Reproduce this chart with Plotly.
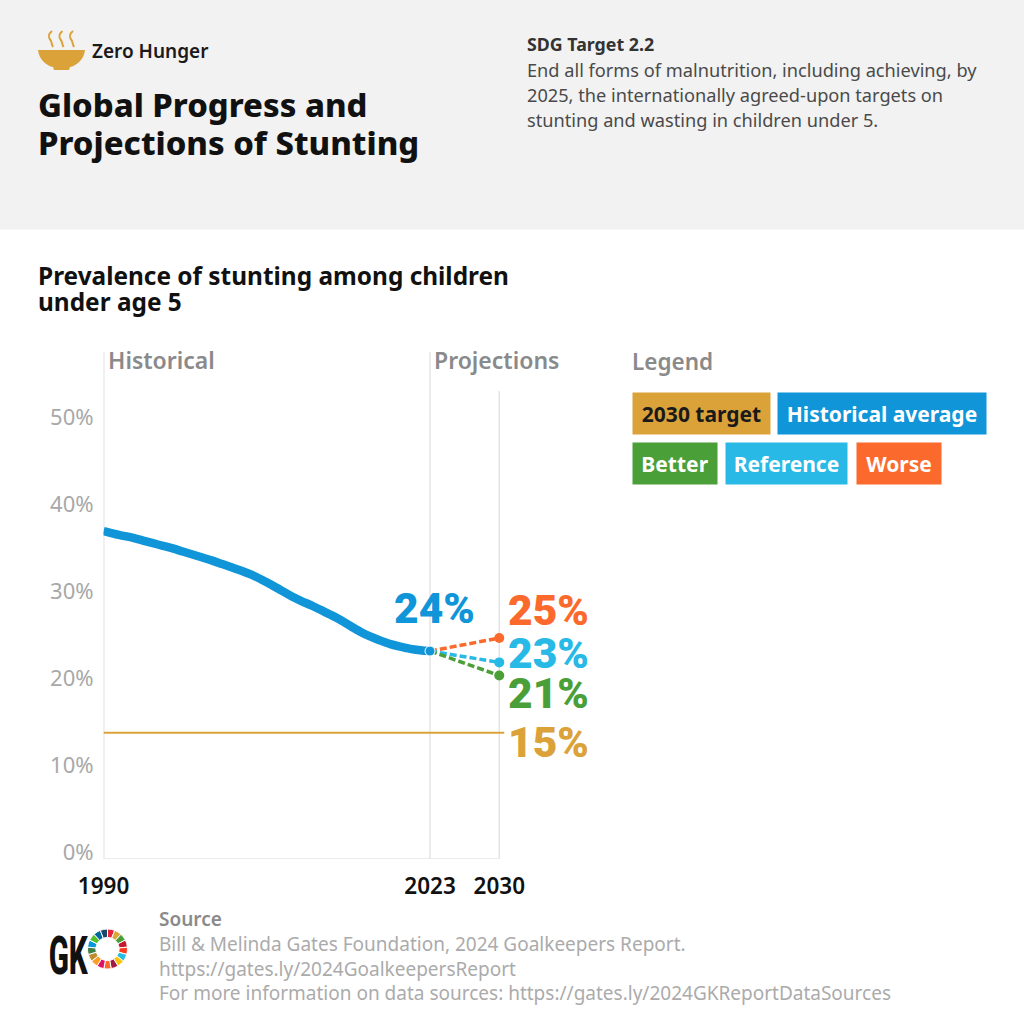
import plotly.graph_objects as go

FONT = "Noto Sans"
years = list(range(1990, 2024))
historical = [37.7, 37.4, 37.15, 36.9, 36.6, 36.3, 36.0, 35.7, 35.35, 35.0, 34.65, 34.3, 33.9, 33.5, 33.1, 32.65, 32.1,
              31.5, 30.85, 30.2, 29.65, 29.15, 28.6, 28.05, 27.45, 26.75, 26.1, 25.55, 25.1, 24.7, 24.4, 24.15, 24.0, 23.9]
proj_years = [2023, 2030]
worse = [23.9, 25.4]
reference = [23.9, 22.6]
better = [23.9, 21.1]
target_years = [1990, 2030.5]
target = [14.5, 14.5]
y_ticks = [0, 10, 20, 30, 40, 50]
y_tick_labels = ["0%", "10%", "20%", "30%", "40%", "50%"]
x_ticks = [1990, 2023, 2030]
x_tick_labels = ["1990", "2023", "2030"]
sdg_colors = ["#e5243b", "#dda63a", "#4c9f38", "#c5192d", "#ff3a21", "#26bde2", "#fcc30b", "#a21942", "#fd6925",
              "#dd1367", "#fd9d24", "#bf8b2e", "#3f7e44", "#0a97d9", "#56c02b", "#00689d", "#19486a"]
sdg_shares = [1] * 17

C_BLUE, C_GOLD, C_GREEN, C_SKY, C_ORANGE = "#0f95d8", "#dba23a", "#4b9f38", "#28b9e6", "#fb6a2c"
GRID = "#e4e4e4"

def X(p): return p / 1024
def Y(p): return 1 - p / 1024

PX_LEFT, PX_RIGHT, PX_TOP, PX_BOTTOM = 103.5, 600, 352, 859
x_range = [1990, 1990 + (PX_RIGHT - PX_LEFT) / 9.894]
y_range = [0, (PX_BOTTOM - PX_TOP) / 8.7]

fig = go.Figure()

def line(x, y, color, width, dash="solid", shape="linear"):
    fig.add_trace(go.Scatter(x=x, y=y, mode="lines", line=dict(color=color, width=width, dash=dash, shape=shape),
                             hoverinfo="skip", showlegend=False))

line([2023, 2023], y_range, GRID, 1.5)
line([2030, 2030], [0, 53.8], GRID, 1.5)
line(target_years, target, C_GOLD, 2)
line(years, historical, C_BLUE, 8.5, shape="spline")
for vals, col in [(worse, C_ORANGE), (reference, C_SKY), (better, C_GREEN)]:
    fig.add_trace(go.Scatter(x=proj_years[1:], y=vals[1:], mode="markers",
                             marker=dict(color=col, size=10), hoverinfo="skip", showlegend=False))
    line(proj_years, vals, col, 3.5, "7px,3px")
fig.add_trace(go.Scatter(x=[years[-1]], y=[historical[-1]], mode="markers",
                         marker=dict(color=C_BLUE, size=10, line=dict(color="white", width=1)),
                         hoverinfo="skip", showlegend=False))

fig.add_trace(go.Pie(values=sdg_shares, sort=False, direction="clockwise", hole=0.58, textinfo="none",
                     marker=dict(colors=sdg_colors, line=dict(color="white", width=1)), rotation=0,
                     domain=dict(x=[X(87.5), X(127.5)], y=[Y(969), Y(929)]), showlegend=False, hoverinfo="skip"))

anns = []
def text(x, y, s, size, color, weight=400, anchor="left", family=FONT):
    anns.append(dict(xref="paper", yref="paper", x=X(x - 1), y=Y(y), text=s, showarrow=False, xanchor=anchor,
                     yanchor="middle", borderpad=0, align=anchor,
                     font=dict(family=family, size=size, color=color, weight=weight)))

text(92, 51, "Zero Hunger", 19, "#1a1a1a", 600)
text(38, 104, "Global Progress and", 32.8, "#111111", 800)
text(38, 142, "Projections of Stunting", 32.8, "#111111", 800)
text(527, 44, "SDG Target 2.2", 17.8, "#333333", 700)
for yy, s in zip([70, 95, 120], ["End all forms of malnutrition, including achieving, by",
                                 "2025, the internationally agreed-upon targets on",
                                 "stunting and wasting in children under 5."]):
    text(527, yy, s, 18.2, "#4a4a4a")
text(38, 275, "Prevalence of stunting among children", 24.4, "#111111", 700)
text(38, 301, "under age 5", 24.4, "#111111", 700)
text(108, 360, "Historical", 23, "#8a8a8a", 600)
text(434, 360, "Projections", 23, "#8a8a8a", 600)
text(632, 361, "Legend", 22.5, "#8a8a8a", 600)
text(159, 919, "Source", 19, "#8a8a8a", 600)
for yy, s in zip([944, 969, 993], ["Bill &amp; Melinda Gates Foundation, 2024 Goalkeepers Report.",
                                   "https://gates.ly/2024GoalkeepersReport",
                                   "For more information on data sources: https://gates.ly/2024GKReportDataSources"]):
    text(159, yy, s, 19, "#ababab")
text(69, 956, "GK", 53, "#111111", 800, anchor="center", family="Roboto")

for x, y, s, col in [(394, 608, "24%", C_BLUE), (508, 610, "25%", C_ORANGE), (508, 653, "23%", C_SKY),
                     (508, 693, "21%", C_GREEN), (508, 742, "15%", C_GOLD)]:
    text(x, y, s, 42.5, col, 900, family="Roboto")

for x0, x1, y0, y1, s, bg, fg in [(632, 770, 392, 434, "2030 target", C_GOLD, "#1a1a1a"),
                                  (777, 986, 392, 434, "Historical average", C_BLUE, "white"),
                                  (632, 717, 442, 484, "Better", C_GREEN, "white"),
                                  (725, 847, 442, 484, "Reference", C_SKY, "white"),
                                  (856, 941, 442, 484, "Worse", C_ORANGE, "white")]:
    anns.append(dict(xref="paper", yref="paper", x=X((x0 + x1) / 2), y=Y((y0 + y1) / 2), text=s, showarrow=False,
                     xanchor="center", yanchor="middle", width=x1 - x0 - 1, height=y1 - y0 - 1, bgcolor=bg, borderpad=0,
                     align="center", valign="middle", font=dict(family=FONT, size=21, color=fg, weight=700)))

def path(cmds):
    out = []
    for c in cmds:
        if isinstance(c, str):
            out.append(c)
        else:
            out.append(f"{X(c[0]):.5f},{Y(c[1]):.5f}")
    return " ".join(out)

shapes = [dict(type="rect", xref="paper", yref="paper", x0=0, x1=1, y0=Y(229.5), y1=1,
               fillcolor="#f2f2f2", line_width=0, layer="below")]
shapes.append(dict(type="path", xref="paper", yref="paper", fillcolor=C_GOLD, line_width=0,
                   path=path(["M", (38, 50), "L", (85, 50), "C", (84, 60), (76, 66), (70, 67), "L", (69, 70),
                              "L", (54, 70), "L", (53, 67), "C", (47, 66), (39, 60), (38, 50), "Z"])))
for dx in [0, 10.5, 21]:
    shapes.append(dict(type="path", xref="paper", yref="paper", line=dict(color=C_GOLD, width=2),
                       path=path(["M", (52 + dx, 31), "C", (46 + dx, 36), (50 + dx, 39), (51 + dx, 41),
                                  "C", (52 + dx, 44), (52 + dx, 45), (53 + dx, 47)])))

fig.update_layout(
    width=1024, height=1024, margin=dict(l=0, r=0, t=0, b=0), paper_bgcolor="white", plot_bgcolor="white",
    showlegend=False, annotations=anns, shapes=shapes,
    xaxis=dict(domain=[X(PX_LEFT), X(PX_RIGHT)], range=x_range, tickmode="array", tickvals=x_ticks,
               ticktext=x_tick_labels, showgrid=False, zeroline=False, ticks="", showline=False, automargin=False,
               tickfont=dict(family=FONT, size=22.5, color="#111111", weight=600), ticklabelstandoff=11),
    yaxis=dict(domain=[Y(PX_BOTTOM), Y(PX_TOP)], range=y_range, tickmode="array", tickvals=y_ticks,
               ticktext=y_tick_labels, showgrid=False, zeroline=False, ticks="", showline=False, automargin=False,
               tickfont=dict(family=FONT, size=22, color="#a8a8a8"), ticklabelstandoff=9, ticklabelshift=-7),
)
fig.add_shape(type="line", xref="x", yref="paper", x0=1990, x1=1990, y0=Y(PX_BOTTOM), y1=Y(PX_TOP),
              line=dict(color=GRID, width=2), layer="below")
fig.add_shape(type="line", xref="x", yref="y", x0=1990, x1=2030, y0=0, y1=0,
              line=dict(color=GRID, width=1.5), layer="below")

squeeze = """
document.body.style.margin='0';document.documentElement.style.overflow='hidden';
function squeezeGK(){
  var t=[].slice.call(document.querySelectorAll('.annotation-text')).find(function(e){return e.textContent==='GK';});
  if(!t){setTimeout(squeezeGK,20);return;}
  var b=t.getBBox(), cx=b.x+b.width/2;
  t.setAttribute('transform','translate('+cx+',0) scale(0.56,1) translate('+(-cx)+',0)');
}
setTimeout(squeezeGK,20);
"""
fig.write_html("out.html", config=dict(displayModeBar=False), post_script=squeeze)
